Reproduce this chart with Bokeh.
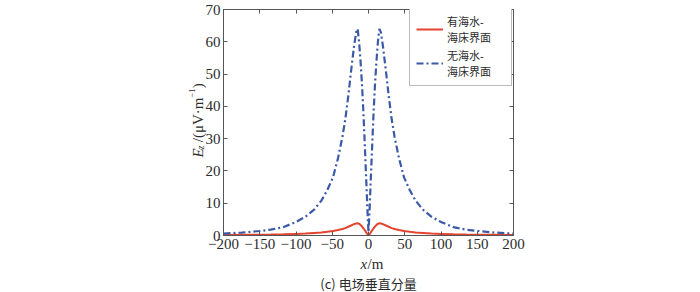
from math import pi
from bokeh.plotting import figure
from bokeh.models import Range1d, LinearAxis, FixedTicker, Label, Legend, LegendItem
from bokeh.embed import file_html
from bokeh.resources import INLINE

# ---------------- data ----------------
x_m = [-200, -175, -150, -135, -117, -100, -87, -75, -65, -57, -49, -42, -36, -32,
       -28, -24, -20, -17, -15, -13, -11, -9, -7, -5, -3, -1.5, 0,
       1.5, 3, 5, 7, 9, 11, 13, 15, 17, 20, 24, 28, 32, 36, 42, 49, 57, 65,
       75, 87, 100, 117, 135, 150, 175, 200]

ez_with_sea = [0.15, 0.2, 0.25, 0.3, 0.38, 0.5, 0.6, 0.8, 0.95, 1.15, 1.4, 1.7, 2.0, 2.3,
               2.7, 3.1, 3.5, 3.75, 3.8, 3.65, 3.3, 2.8, 2.2, 1.6, 0.9, 0.45, 0.05,
               0.45, 0.9, 1.6, 2.2, 2.8, 3.3, 3.65, 3.8, 3.75, 3.5, 3.1, 2.7, 2.3, 2.0, 1.7, 1.4, 1.15, 0.95,
               0.8, 0.6, 0.5, 0.38, 0.3, 0.25, 0.2, 0.15]

ez_no_sea = [0.6, 0.9, 1.4, 1.8, 2.6, 4.2, 5.8, 8.0, 10.8, 14.0, 18.0, 24.0, 30.5, 36.0,
             43.0, 51.0, 58.5, 63.0, 64.0, 60.0, 54.0, 47.0, 38.0, 27.5, 16.5, 8.0, 1.0,
             8.0, 16.5, 27.5, 38.0, 47.0, 54.0, 60.0, 64.0, 63.0, 58.5, 51.0, 43.0, 36.0, 30.5, 24.0, 18.0, 14.0, 10.8,
             8.0, 5.8, 4.2, 2.6, 1.8, 1.4, 0.9, 0.6]

series_labels = ["有海水-\n海床界面", "无海水-\n海床界面"]
x_ticks = [-200, -150, -100, -50, 0, 50, 100, 150, 200]
x_tick_labels = ["\u2212200", "\u2212150", "\u2212100", "\u221250", "0", "50", "100", "150", "200"]
y_ticks = [0, 10, 20, 30, 40, 50, 60, 70]
x_title = ("x", "/m")
y_title = ("E", "z", "/(\u03bcV\u00b7m", "\u22121", ")")
caption = "(c) 电场垂直分量"

# ---------------- styles ----------------
RED = "#e5432f"
BLUE = "#3a59a6"
AX = "#555555"
TXT = "#2b2b2b"
SERIF = "Liberation Serif"
CJK = "Noto Sans CJK SC"

p = figure(width=700, height=292, output_backend="svg", toolbar_location=None,
           x_range=Range1d(-200, 200), y_range=Range1d(0, 70),
           min_border_left=223, min_border_right=187, min_border_top=9, min_border_bottom=57,
           x_axis_location=None, y_axis_location=None)
p.xgrid.visible = False
p.ygrid.visible = False
p.outline_line_color = AX
p.outline_line_width = 1
p.background_fill_color = "white"
p.border_fill_color = "white"


def style_axis(ax, ticks, overrides=None, show_labels=True):
    ax.ticker = FixedTicker(ticks=ticks)
    ax.axis_line_color = AX
    ax.major_tick_line_color = AX
    ax.major_tick_in = 4
    ax.major_tick_out = 0
    ax.minor_tick_line_color = None
    if show_labels:
        if overrides:
            ax.major_label_overrides = overrides
        ax.major_label_text_font = SERIF
        ax.major_label_text_font_size = "15px"
        ax.major_label_text_color = TXT
        ax.major_label_standoff = 3
    else:
        ax.major_label_overrides = {t: "" for t in ticks}
        ax.major_label_text_font_size = "1px"
        ax.major_label_standoff = 0


xb = LinearAxis()
style_axis(xb, x_ticks, dict(zip(x_ticks, x_tick_labels)))
p.add_layout(xb, "below")
yl = LinearAxis()
style_axis(yl, y_ticks)
p.add_layout(yl, "left")
xt = LinearAxis()
style_axis(xt, x_ticks, show_labels=False)
p.add_layout(xt, "above")
yr = LinearAxis()
style_axis(yr, y_ticks, show_labels=False)
p.add_layout(yr, "right")

r1 = p.line(x_m, ez_with_sea, line_color=RED, line_width=2)
r2 = p.line(x_m, ez_no_sea, line_color=BLUE, line_width=2.2, line_dash="7 3 2 3")

legend = Legend(items=[LegendItem(label=series_labels[0], renderers=[r1]),
                       LegendItem(label=series_labels[1], renderers=[r2])],
                location=(186, 149), padding=6, spacing=2,
                glyph_width=27, glyph_height=14, label_standoff=4, label_width=58,
                label_text_font="Liberation Sans, 'Noto Sans CJK SC'", label_text_font_size="11px",
                label_text_color=TXT, label_text_line_height=1.0,
                border_line_color="#777777", border_line_width=1,
                background_fill_color="white", background_fill_alpha=1)
p.add_layout(legend)


# Texts outside the frame: placed in side panels (not clipped), positioned
# through the plot's scales so that the panel stacking does not matter.
def lab(x, y, text, place, size="15px", italic=False, font=SERIF, angle=0.0, align="left"):
    p.add_layout(Label(x=x, y=y, text=text, angle=angle, text_font=font,
                       text_font_style="italic" if italic else "normal",
                       text_font_size=size, text_color=TXT,
                       text_align=align, text_baseline="alphabetic"), place)

lab(0, -14.87, caption, "right", size="13px", font=CJK, align="center")
lab(-11.0, -8.98, x_title[0], "right", italic=True)
lab(-1.3, -8.98, x_title[1], "right")

lab(-234.5, 24.16, y_title[0], "left", italic=True, angle=pi / 2)
lab(-231.7, 26.6, y_title[1], "left", size="10px", italic=True, angle=pi / 2)
lab(-234.5, 28.9, y_title[2], "left", angle=pi / 2)
lab(-242.8, 42.6, y_title[3], "left", size="9px", angle=pi / 2)
lab(-234.5, 45.6, y_title[4], "left", angle=pi / 2)

open("out.html", "w").write(file_html(p, INLINE))
